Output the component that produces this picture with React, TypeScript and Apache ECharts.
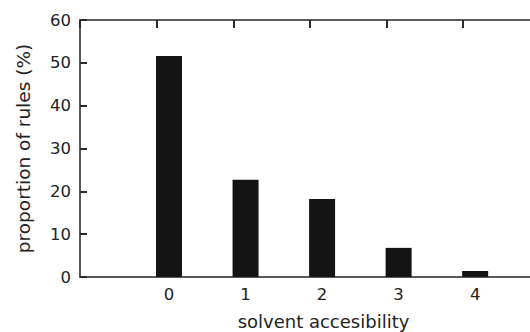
import React, { useEffect, useRef } from "react";
import * as echarts from "echarts";

const categories = [0, 1, 2, 3, 4];
const proportions = [51.6, 22.7, 18.2, 6.8, 1.4];
const yTicks = [0, 10, 20, 30, 40, 50, 60];
const topTickOffset = -0.17;

const FONT = "DejaVu Sans";
const INK = "#222222";
const TICK = "#2a2a2a";

export default function App() {
  const ref = useRef<HTMLDivElement>(null);
  useEffect(() => {
    if (!ref.current) return;
    const chart = echarts.init(ref.current, null, { renderer: "svg" });
    const xMin = -1.163;
    const xMax = 5.2;
    const yMax = yTicks[yTicks.length - 1];
    chart.setOption({
      animation: false,
      backgroundColor: "#ffffff",
      grid: {
        left: 80,
        top: 20,
        width: 487,
        bottom: 55,
        containLabel: false,
        outerBoundsMode: "none",
      },
      xAxis: [
        {
          type: "value",
          position: "bottom",
          min: xMin,
          max: xMax,
          name: "solvent accesibility",
          nameLocation: "middle",
          nameGap: 35,
          nameTextStyle: { fontFamily: FONT, fontSize: 18, color: INK },
          axisLine: { show: true, onZero: false, lineStyle: { color: INK, width: 1.5 } },
          axisTick: { show: false },
          splitLine: { show: false },
          axisLabel: {
            customValues: categories,
            fontFamily: FONT,
            fontSize: 16.5,
            color: INK,
            margin: 9,
          },
        },
        {
          type: "value",
          position: "top",
          min: xMin - topTickOffset,
          max: xMax - topTickOffset,
          interval: 1,
          axisLine: { show: true, onZero: false, lineStyle: { color: INK, width: 1.5 } },
          axisTick: {
            show: true,
            inside: true,
            length: 8,
            lineStyle: { color: TICK, width: 2, opacity: 1 },
          },
          axisLabel: { show: true, color: "transparent", fontSize: 8, showMaxLabel: false },
          splitLine: { show: false },
        },
      ],
      yAxis: {
        type: "value",
        min: yTicks[0],
        max: yMax,
        interval: 10,
        name: "proportion of rules (%)",
        nameLocation: "middle",
        nameRotate: 90,
        nameGap: 47,
        nameTextStyle: { fontFamily: FONT, fontSize: 18.5, color: INK },
        axisLine: { show: true, onZero: false, lineStyle: { color: INK, width: 1.5 } },
        axisTick: {
          show: true,
          inside: true,
          length: 7,
          lineStyle: { color: TICK, width: 2, opacity: 1 },
        },
        splitLine: { show: false },
        axisLabel: { fontFamily: FONT, fontSize: 16.5, color: INK, margin: 9 },
      },
      series: [
        {
          type: "bar",
          xAxisIndex: 0,
          data: categories.map((c, i) => [c, proportions[i]]),
          barWidth: 26,
          itemStyle: { color: "#141414" },
        },
      ],
    });
    return () => chart.dispose();
  }, []);
  return <div ref={ref} style={{ width: 530, height: 332, position: "absolute", left: 0, top: 0 }} />;
}
